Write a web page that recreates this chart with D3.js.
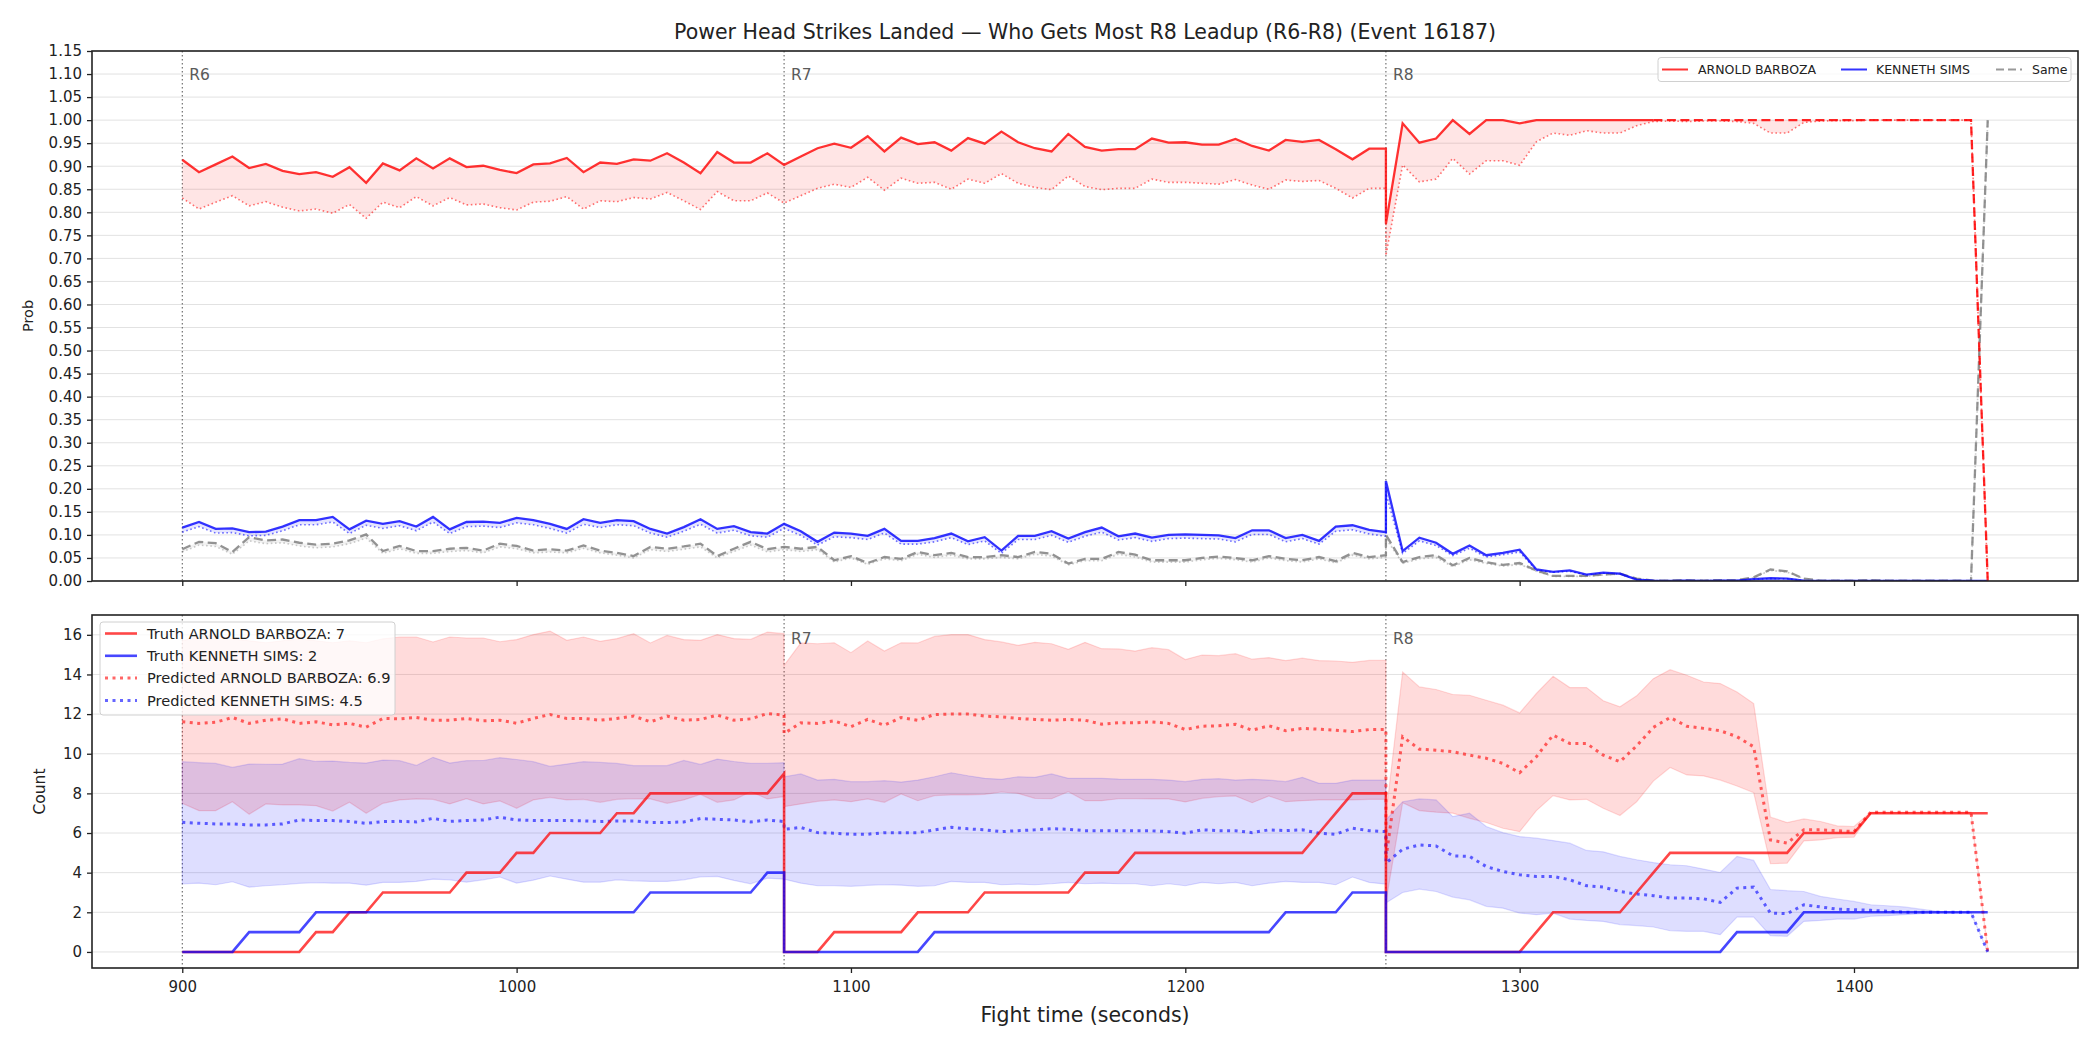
<!DOCTYPE html>
<html>
<head>
<meta charset="utf-8">
<script src="https://cdn.jsdelivr.net/npm/d3@7"></script>
<style>
  body { margin: 0; background: #fff; }
  svg { display: block; font-family: "DejaVu Sans", sans-serif; }
</style>
</head>
<body>
<svg class="chart" width="2100" height="1050"></svg>
<script>
var chartTitle = "Power Head Strikes Landed \u2014 Who Gets Most R8 Leadup (R6-R8) (Event 16187)";
var fighters = ["ARNOLD BARBOZA", "KENNETH SIMS"];
var finalTruth = [7, 2];
var finalPredicted = [6.9, 4.5];

var roundLabels = ["R6", "R7", "R8"];
var roundStarts = [900, 1080, 1260];
var roundSeconds = 180, stepSeconds = 5;

var timeTicks = [900, 1000, 1100, 1200, 1300, 1400];
var probTicks = [0, 0.05, 0.1, 0.15, 0.2, 0.25, 0.3, 0.35, 0.4, 0.45, 0.5, 0.55,
                 0.6, 0.65, 0.7, 0.75, 0.8, 0.85, 0.9, 0.95, 1.0, 1.05, 1.1, 1.15];
var countTicks = [0, 2, 4, 6, 8, 10, 12, 14, 16];

// top panel: probability each fighter lands most (solid) and its adjusted value (dotted)
var probArnold = [
  0.914,0.887,0.904,0.921,0.896,0.905,0.890,0.883,0.887,0.877,0.898,0.864,0.906,0.891,0.917,0.895,0.917,0.898,0.901,0.892,
  0.885,0.904,0.906,0.918,0.887,0.908,0.905,0.915,0.912,0.928,0.908,0.885,0.931,0.908,0.908,0.928,0.903,
  0.903,0.921,0.939,0.949,0.940,0.965,0.932,0.962,0.948,0.952,0.934,0.961,0.949,0.975,0.952,0.939,0.932,0.970,0.942,0.934,
  0.937,0.937,0.960,0.951,0.952,0.947,0.947,0.959,0.944,0.934,0.957,0.953,0.957,0.937,0.915,0.938,0.938,
  0.775,0.993,0.951,0.960,1.0,0.970,1.0,1.0,0.993,1.0,1.0,1.0,1.0,1.0,1.0,1.0,1.0,1.0,1.0,1.0,
  1.0,1.0,1.0,1.0,1.0,1.0,1.0,1.0,1.0,1.0,1.0,1.0,1.0,1.0,1.0,1.0,0
];
var probArnoldAdj = [
  0.831,0.807,0.822,0.836,0.814,0.823,0.811,0.803,0.807,0.798,0.817,0.787,0.822,0.810,0.834,0.814,0.832,0.816,0.818,0.810,
  0.805,0.822,0.824,0.834,0.807,0.825,0.823,0.832,0.829,0.843,0.825,0.806,0.845,0.825,0.825,0.842,0.820,
  0.820,0.836,0.852,0.861,0.854,0.876,0.848,0.874,0.863,0.865,0.850,0.872,0.863,0.884,0.863,0.854,0.849,0.879,0.856,0.849,
  0.852,0.852,0.872,0.865,0.865,0.863,0.861,0.871,0.859,0.850,0.870,0.867,0.869,0.852,0.831,0.852,0.852,
  0.706,0.903,0.866,0.872,0.917,0.883,0.912,0.912,0.902,0.953,0.972,0.967,0.977,0.972,0.972,0.988,0.997,0.998,0.997,0.998,
  0.998,0.997,0.993,0.972,0.972,0.995,0.998,0.999,0.999,1.0,1.0,1.0,1.0,1.0,1.0,1.0,0
];
var probKenneth = [
  0.116,0.128,0.113,0.114,0.106,0.107,0.118,0.132,0.132,0.139,0.112,0.131,0.124,0.130,0.118,0.139,0.112,0.128,0.129,0.126,
  0.137,0.132,0.124,0.113,0.134,0.126,0.132,0.130,0.113,0.103,0.117,0.134,0.113,0.119,0.106,0.103,0.124,
  0.124,0.108,0.085,0.105,0.103,0.098,0.113,0.087,0.087,0.093,0.103,0.086,0.095,0.066,0.098,0.098,0.108,0.092,0.106,0.116,
  0.097,0.103,0.094,0.100,0.101,0.100,0.099,0.093,0.110,0.110,0.093,0.100,0.087,0.118,0.121,0.111,0.106,
  0.217,0.065,0.094,0.083,0.059,0.077,0.056,0.061,0.068,0.025,0.020,0.023,0.014,0.018,0.016,0.003,0.001,0.000,0.001,0.000,
  0.001,0.001,0.004,0.006,0.005,0.001,0,0,0,0,0,0,0,0,0,0,0
];
var probKennethAdj = [
  0.106,0.118,0.104,0.105,0.098,0.099,0.109,0.122,0.122,0.128,0.103,0.121,0.114,0.120,0.109,0.128,0.103,0.118,0.119,0.116,
  0.126,0.122,0.114,0.104,0.123,0.116,0.122,0.120,0.104,0.095,0.108,0.123,0.104,0.110,0.098,0.095,0.114,
  0.114,0.099,0.078,0.096,0.094,0.090,0.104,0.080,0.080,0.085,0.094,0.079,0.087,0.060,0.090,0.090,0.099,0.084,0.097,0.106,
  0.089,0.094,0.086,0.092,0.093,0.092,0.091,0.085,0.101,0.101,0.085,0.092,0.080,0.108,0.111,0.102,0.097,
  0.190,0.060,0.087,0.077,0.055,0.071,0.052,0.057,0.063,0.023,0.019,0.021,0.013,0.017,0.015,0.003,0.001,0,0.001,0,
  0.001,0.001,0.004,0.005,0.005,0.001,0,0,0,0,0,0,0,0,0,0,0
];
var probSame = [
  0.069,0.085,0.082,0.063,0.095,0.088,0.090,0.083,0.079,0.081,0.088,0.101,0.065,0.076,0.065,0.065,0.070,0.072,0.066,0.081,
  0.076,0.066,0.069,0.066,0.077,0.066,0.061,0.054,0.074,0.070,0.075,0.081,0.054,0.070,0.085,0.069,0.074,
  0.074,0.070,0.074,0.045,0.054,0.039,0.052,0.048,0.063,0.056,0.061,0.052,0.052,0.056,0.052,0.063,0.059,0.038,0.048,0.048,
  0.063,0.057,0.045,0.045,0.045,0.050,0.053,0.050,0.045,0.054,0.048,0.045,0.052,0.043,0.061,0.052,0.056,
  0.100,0.041,0.052,0.056,0.034,0.050,0.041,0.035,0.039,0.023,0.011,0.011,0.011,0.014,0.016,0.005,0.001,0.001,0.002,0.001,
  0.002,0.002,0.008,0.025,0.021,0.005,0.001,0.001,0.001,0.002,0.001,0.001,0.001,0.001,0.001,0.0,1.0
];
var probSameAdj = [
  0.063,0.078,0.075,0.058,0.087,0.081,0.083,0.076,0.072,0.074,0.081,0.093,0.060,0.070,0.060,0.060,0.064,0.066,0.061,0.074,
  0.070,0.061,0.063,0.061,0.071,0.061,0.056,0.050,0.068,0.064,0.069,0.074,0.050,0.064,0.078,0.063,0.068,
  0.068,0.064,0.068,0.041,0.050,0.036,0.048,0.044,0.058,0.051,0.056,0.048,0.048,0.051,0.048,0.058,0.054,0.035,0.044,0.044,
  0.058,0.052,0.041,0.041,0.041,0.046,0.049,0.046,0.041,0.050,0.044,0.041,0.048,0.039,0.056,0.048,0.051,
  0.092,0.038,0.048,0.051,0.031,0.046,0.038,0.032,0.036,0.021,0.010,0.010,0.010,0.013,0.015,0.005,0.001,0.001,0.002,0.001,
  0.002,0.002,0.007,0.023,0.019,0.005,0.001,0.001,0.001,0.002,0.001,0.001,0.001,0.001,0.001,0.0,1.0
];

// bottom panel: counts within each round
var truthArnold = [
  0,0,0,0,0,0,0,0,1,1,2,2,3,3,3,3,3,4,4,4,5,5,6,6,6,6,7,7,8,8,8,8,8,8,8,8,9,
  0,0,0,1,1,1,1,1,2,2,2,2,3,3,3,3,3,3,4,4,4,5,5,5,5,5,5,5,5,5,5,5,6,7,8,8,8,
  0,0,0,0,0,0,0,0,0,1,2,2,2,2,2,3,4,5,5,5,5,5,5,5,5,6,6,6,6,7,7,7,7,7,7,7,7
];
var truthKenneth = [
  0,0,0,0,1,1,1,1,2,2,2,2,2,2,2,2,2,2,2,2,2,2,2,2,2,2,2,2,3,3,3,3,3,3,3,4,4,
  0,0,0,0,0,0,0,0,0,1,1,1,1,1,1,1,1,1,1,1,1,1,1,1,1,1,1,1,1,1,2,2,2,2,3,3,3,
  0,0,0,0,0,0,0,0,0,0,0,0,0,0,0,0,0,0,0,0,0,1,1,1,1,2,2,2,2,2,2,2,2,2,2,2,2
];
var predArnold = [
  11.61,11.53,11.59,11.83,11.53,11.69,11.76,11.53,11.61,11.46,11.53,11.34,11.78,11.76,11.83,11.69,11.69,11.78,11.66,11.69,
  11.54,11.78,11.98,11.78,11.78,11.69,11.78,11.90,11.61,11.90,11.69,11.73,11.95,11.69,11.76,12.03,11.95,
  11.02,11.56,11.53,11.66,11.36,11.73,11.44,11.83,11.69,11.98,12.00,12.00,11.90,11.86,11.78,11.73,11.69,11.73,11.69,11.49,
  11.56,11.56,11.61,11.53,11.22,11.39,11.41,11.49,11.19,11.41,11.16,11.28,11.24,11.19,11.12,11.22,11.22,
  4.70,10.86,10.23,10.18,10.10,9.93,9.77,9.51,9.04,9.85,10.94,10.52,10.52,9.93,9.60,10.40,11.33,11.83,11.39,11.28,
  11.16,10.86,10.35,5.65,5.49,6.16,6.16,6.12,6.07,7.05,7.05,7.05,7.05,7.05,7.05,7.05,0
];
var predKenneth = [
  6.54,6.49,6.46,6.46,6.41,6.41,6.46,6.66,6.63,6.63,6.58,6.49,6.58,6.59,6.56,6.74,6.59,6.63,6.66,6.80,
  6.66,6.63,6.63,6.63,6.61,6.58,6.61,6.61,6.53,6.53,6.56,6.73,6.69,6.66,6.56,6.66,6.58,
  6.19,6.28,6.02,5.99,5.94,5.94,6.02,6.02,6.02,6.16,6.29,6.21,6.16,6.07,6.12,6.16,6.22,6.19,6.12,6.12,
  6.12,6.11,6.11,6.07,5.99,6.16,6.12,6.11,6.02,6.16,6.12,6.16,5.99,5.94,6.24,6.12,6.07,
  4.48,5.18,5.40,5.35,4.85,4.82,4.31,4.06,3.89,3.81,3.81,3.64,3.34,3.27,3.05,2.92,2.84,2.72,2.72,2.68,
  2.50,3.22,3.27,1.96,1.93,2.38,2.27,2.16,2.13,2.10,2.05,2.01,2.00,2.00,2.00,2.00,0
];
var arnoldHi = [
  15.70,15.90,16.00,15.80,15.70,15.60,15.70,15.80,15.70,15.60,15.70,15.60,15.80,15.89,15.89,15.64,15.89,15.84,15.84,15.65,
  15.76,16.01,16.19,15.72,15.89,15.67,15.81,16.06,15.59,15.97,15.76,15.72,16.01,15.81,15.77,16.14,16.06,
  14.46,15.59,15.55,15.60,15.10,15.69,15.18,15.60,15.59,15.92,16.01,16.01,15.76,15.64,15.47,15.62,15.55,15.27,15.62,15.30,
  15.29,15.18,15.35,15.25,14.75,14.98,14.95,15.05,14.77,14.85,14.70,14.82,14.70,14.68,14.61,14.71,14.71,
  6.90,14.13,13.37,13.24,12.99,12.95,12.70,12.45,12.06,13.04,13.91,13.34,13.34,12.67,12.37,12.92,13.79,14.24,13.96,13.62,
  13.54,13.12,12.53,6.80,6.53,6.71,6.58,6.36,6.33,7.05,7.05,7.05,7.05,7.05,7.05,7.05,0.10
];
var arnoldLo = [
  7.50,7.13,7.13,7.58,6.95,7.47,7.42,7.42,7.38,7.11,7.55,7.00,7.50,7.67,7.72,7.70,7.47,7.73,7.47,7.62,
  7.25,7.67,7.80,7.67,7.70,7.55,7.70,7.73,7.72,7.50,7.67,7.95,7.55,7.67,8.09,7.72,7.84,
  7.33,7.47,7.60,7.67,7.58,7.72,7.55,7.97,7.63,7.89,7.92,7.92,7.95,8.07,8.00,7.75,7.73,8.09,7.63,7.63,
  7.73,7.73,7.72,7.72,7.57,7.75,7.84,7.87,7.53,7.87,7.58,7.63,7.67,7.67,7.67,7.70,7.70,
  2.50,7.53,7.13,7.05,7.00,6.74,6.53,6.24,6.07,7.13,7.89,7.67,7.70,7.25,6.88,7.58,8.62,9.31,8.93,8.88,
  8.67,8.37,8.04,4.45,4.48,5.60,5.65,5.77,5.79,7.00,7.00,7.00,7.00,7.00,7.00,7.00,0
];
var kennethHi = [
  9.60,9.55,9.51,9.31,9.48,9.46,9.48,9.75,9.61,9.63,9.56,9.53,9.68,9.65,9.41,9.82,9.53,9.65,9.66,9.80,
  9.71,9.60,9.36,9.48,9.60,9.56,9.51,9.40,9.40,9.40,9.66,9.46,9.73,9.61,9.51,9.51,9.55,
  8.84,8.98,8.67,8.71,8.59,8.59,8.64,8.57,8.67,8.84,9.04,8.89,8.76,8.71,8.84,8.81,8.98,8.76,8.76,8.76,
  8.72,8.71,8.71,8.67,8.59,8.71,8.74,8.67,8.71,8.67,8.59,8.81,8.51,8.51,8.67,8.67,8.67,
  6.66,7.58,7.72,7.67,6.83,7.00,6.33,6.02,5.82,5.74,5.62,5.49,5.12,5.05,4.82,4.65,4.51,4.40,4.35,4.18,
  4.01,4.82,4.62,3.15,3.09,3.05,2.80,2.67,2.55,2.38,2.33,2.27,2.16,2.05,2.01,2.00,0
];
var kennethLo = [
  3.44,3.47,3.39,3.54,3.27,3.34,3.39,3.46,3.49,3.47,3.47,3.37,3.51,3.51,3.56,3.67,3.64,3.52,3.64,3.78,
  3.47,3.62,3.83,3.67,3.52,3.52,3.64,3.59,3.56,3.56,3.64,3.79,3.81,3.61,3.44,3.72,3.67,
  3.67,3.47,3.34,3.34,3.31,3.36,3.39,3.37,3.31,3.34,3.56,3.51,3.51,3.39,3.42,3.39,3.44,3.51,3.44,3.47,
  3.44,3.44,3.34,3.44,3.34,3.51,3.44,3.51,3.34,3.47,3.56,3.51,3.51,3.39,3.78,3.51,3.42,
  2.47,3.00,3.17,3.05,2.77,2.63,2.30,2.21,1.96,1.88,1.96,1.66,1.59,1.54,1.38,1.33,1.26,1.07,1.04,1.04,
  0.87,1.76,1.76,0.82,0.79,1.54,1.59,1.66,1.66,1.80,1.83,1.88,1.93,1.96,1.96,1.96,0
];

(function() {
  var svg = d3.select(".chart"),
      width = +svg.attr("width"),
      height = +svg.attr("height");

  var red = "#ff0000", blue = "#0000ff", grey = "#808080", ink = "#222";
  var dashFrom = 1340; // red probability line turns dashed from here on (last round)

  // sample times, one block of 37 per round (round boundaries repeat)
  var time = [];
  roundStarts.forEach(function(s) {
    d3.range(s, s + roundSeconds + 1, stepSeconds).forEach(function(t) { time.push(t); });
  });
  var perRound = roundSeconds / stepSeconds + 1;

  var frame = {left: 92, right: 2078};
  var probBox = {top: 51, bottom: 581},
      countBox = {top: 615, bottom: 968};

  var x = d3.scaleLinear().domain([873, 1467]).range([frame.left, frame.right]);
  var yProb = d3.scaleLinear().domain([0, 1.15]).range([probBox.bottom, probBox.top]);
  var yCount = d3.scaleLinear().domain([-0.81, 17.0]).range([countBox.bottom, countBox.top]);

  svg.append("rect").attr("width", width).attr("height", height).attr("fill", "#fff");

  var defs = svg.append("defs");
  [["clipProb", probBox], ["clipCount", countBox]].forEach(function(c) {
    defs.append("clipPath").attr("id", c[0]).append("rect")
      .attr("x", frame.left).attr("y", c[1].top)
      .attr("width", frame.right - frame.left).attr("height", c[1].bottom - c[1].top);
  });

  function pts(values) {
    return values.map(function(v, i) { return {t: time[i], v: v, i: i}; });
  }

  function grid(g, scale, ticks) {
    g.selectAll(".grid").data(ticks).enter().append("line")
      .attr("x1", frame.left).attr("x2", frame.right)
      .attr("y1", function(d) { return scale(d); })
      .attr("y2", function(d) { return scale(d); })
      .attr("stroke", "#e2e2e2").attr("stroke-width", 1);
  }

  function roundMarks(g, box, labelFrom) {
    roundStarts.forEach(function(s, i) {
      g.append("line")
        .attr("x1", x(s)).attr("x2", x(s))
        .attr("y1", box.top).attr("y2", box.bottom)
        .attr("stroke", "#555").attr("stroke-width", 1)
        .attr("stroke-dasharray", "1.5,2.5");
      if (i >= labelFrom) {
        g.append("text")
          .attr("x", x(s) + 7).attr("y", box.top + 29)
          .attr("font-size", "15.5px").attr("fill", "#5a5a5a")
          .text(roundLabels[i]);
      }
    });
  }

  function axes(box, yScale, yTicks, yFormat, showX) {
    var g = svg.append("g");
    var yAxis = d3.axisLeft(yScale).tickValues(yTicks).tickFormat(yFormat)
      .tickSize(5).tickPadding(5);
    var ya = g.append("g").attr("transform", "translate(" + frame.left + ",0)").call(yAxis);
    var xAxis = d3.axisBottom(x).tickValues(timeTicks).tickSize(5).tickPadding(8)
      .tickFormat(showX ? d3.format("d") : "");
    var xa = g.append("g").attr("transform", "translate(0," + box.bottom + ")").call(xAxis);
    [ya, xa].forEach(function(a) {
      a.select(".domain").remove();
      a.selectAll(".tick line").attr("stroke", ink).attr("stroke-width", 1.3);
      a.selectAll(".tick text").attr("fill", ink)
        .style("font-family", "DejaVu Sans").style("font-size", "15px");
    });
    g.append("rect")
      .attr("x", frame.left).attr("y", box.top)
      .attr("width", frame.right - frame.left).attr("height", box.bottom - box.top)
      .attr("fill", "none").attr("stroke", ink).attr("stroke-width", 1.6);
  }

  // ---------- top panel ----------
  var top = svg.append("g");
  grid(top, yProb, probTicks);
  roundMarks(top, probBox, 0);

  var probPlot = top.append("g").attr("clip-path", "url(#clipProb)");
  var lineP = d3.line().x(function(d) { return x(d.t); }).y(function(d) { return yProb(d.v); });

  function bandP(hi, lo, color, opacity) {
    var data = hi.map(function(v, i) { return {t: time[i], hi: v, lo: lo[i]}; });
    probPlot.append("path").datum(data)
      .attr("fill", color).attr("fill-opacity", opacity)
      .attr("d", d3.area()
        .x(function(d) { return x(d.t); })
        .y0(function(d) { return yProb(d.lo); })
        .y1(function(d) { return yProb(d.hi); }));
  }

  bandP(probArnold, probArnoldAdj, red, 0.1);
  bandP(probKenneth, probKennethAdj, blue, 0.1);
  bandP(probSame, probSameAdj, grey, 0.1);

  [[probArnoldAdj, red, 0.55], [probKennethAdj, blue, 0.55], [probSameAdj, grey, 0.4]].forEach(function(s) {
    probPlot.append("path").datum(pts(s[0]))
      .attr("fill", "none").attr("stroke", s[1]).attr("stroke-opacity", s[2])
      .attr("stroke-width", 1.6).attr("stroke-dasharray", "1.6,2.6")
      .attr("d", lineP);
  });

  probPlot.append("path").datum(pts(probSame))
    .attr("fill", "none").attr("stroke", grey).attr("stroke-opacity", 0.85)
    .attr("stroke-width", 2.3).attr("stroke-dasharray", "9,4.5")
    .attr("d", lineP);

  probPlot.append("path").datum(pts(probKenneth))
    .attr("fill", "none").attr("stroke", blue).attr("stroke-opacity", 0.8)
    .attr("stroke-width", 2.3).attr("d", lineP);

  var arnoldPts = pts(probArnold),
      lastRound = 2 * perRound;
  probPlot.append("path")
    .datum(arnoldPts.filter(function(d) { return d.i < lastRound || d.t <= dashFrom; }))
    .attr("fill", "none").attr("stroke", red).attr("stroke-opacity", 0.8)
    .attr("stroke-width", 2.3).attr("d", lineP);
  probPlot.append("path")
    .datum(arnoldPts.filter(function(d) { return d.i >= lastRound && d.t >= dashFrom; }))
    .attr("fill", "none").attr("stroke", red).attr("stroke-opacity", 0.85)
    .attr("stroke-width", 2.3).attr("stroke-dasharray", "9,4.5")
    .attr("d", lineP);

  axes(probBox, yProb, probTicks, d3.format(".2f"), false);

  svg.append("text")
    .attr("transform", "translate(33," + (probBox.top + probBox.bottom) / 2 + ") rotate(-90)")
    .attr("text-anchor", "middle").attr("font-size", "14.5px").attr("fill", ink)
    .text("Prob");

  // top legend
  var legTop = svg.append("g");
  legTop.append("rect")
    .attr("x", 1658).attr("y", 57.5).attr("width", 413).attr("height", 24).attr("rx", 3)
    .attr("fill", "#fff").attr("fill-opacity", 0.8)
    .attr("stroke", "#d0d0d0").attr("stroke-width", 1);
  var topItems = [
    {label: fighters[0], color: red, dash: null, x: 1662, tx: 1698},
    {label: fighters[1], color: blue, dash: null, x: 1841, tx: 1876},
    {label: "Same", color: grey, dash: "8,4", x: 1996, tx: 2032}
  ];
  topItems.forEach(function(d) {
    legTop.append("line")
      .attr("x1", d.x).attr("x2", d.x + 26).attr("y1", 69.5).attr("y2", 69.5)
      .attr("stroke", d.color).attr("stroke-opacity", 0.8).attr("stroke-width", 2)
      .attr("stroke-dasharray", d.dash);
    legTop.append("text")
      .attr("x", d.tx).attr("y", 74)
      .attr("font-size", "12.5px").attr("fill", ink)
      .text(d.label);
  });

  // ---------- bottom panel ----------
  var bot = svg.append("g");
  grid(bot, yCount, countTicks);
  roundMarks(bot, countBox, 1);

  var countPlot = bot.append("g").attr("clip-path", "url(#clipCount)");
  var lineC = d3.line().x(function(d) { return x(d.t); }).y(function(d) { return yCount(d.v); });

  function bandC(hi, lo, color, opacity) {
    var data = hi.map(function(v, i) { return {t: time[i], hi: v, lo: lo[i]}; });
    countPlot.append("path").datum(data)
      .attr("fill", color).attr("fill-opacity", opacity)
      .attr("stroke", color).attr("stroke-opacity", opacity).attr("stroke-width", 1.2)
      .attr("d", d3.area()
        .x(function(d) { return x(d.t); })
        .y0(function(d) { return yCount(d.lo); })
        .y1(function(d) { return yCount(d.hi); }));
  }

  bandC(arnoldHi, arnoldLo, red, 0.14);
  bandC(kennethHi, kennethLo, blue, 0.13);

  [[predArnold, red], [predKenneth, blue]].forEach(function(s) {
    countPlot.append("path").datum(pts(s[0]))
      .attr("fill", "none").attr("stroke", s[1]).attr("stroke-opacity", 0.6)
      .attr("stroke-width", 3).attr("stroke-dasharray", "3,4.5")
      .attr("d", lineC);
  });

  [[truthArnold, red], [truthKenneth, blue]].forEach(function(s) {
    countPlot.append("path").datum(pts(s[0]))
      .attr("fill", "none").attr("stroke", s[1]).attr("stroke-opacity", 0.72)
      .attr("stroke-width", 2.6).attr("d", lineC);
  });

  axes(countBox, yCount, countTicks, d3.format("d"), true);

  svg.append("text")
    .attr("transform", "translate(45," + (countBox.top + countBox.bottom) / 2 + ") rotate(-90)")
    .attr("text-anchor", "middle").attr("font-size", "15.5px").attr("fill", ink)
    .text("Count");

  svg.append("text")
    .attr("x", (frame.left + frame.right) / 2).attr("y", 1022)
    .attr("text-anchor", "middle").attr("font-size", "20.5px").attr("fill", ink)
    .text("Fight time (seconds)");

  // bottom legend
  var legBot = svg.append("g");
  legBot.append("rect")
    .attr("x", 100).attr("y", 622).attr("width", 295).attr("height", 93).attr("rx", 3)
    .attr("fill", "#fff").attr("fill-opacity", 0.8)
    .attr("stroke", "#d0d0d0").attr("stroke-width", 1);
  var botItems = [
    {label: "Truth " + fighters[0] + ": " + finalTruth[0], color: red, dotted: false},
    {label: "Truth " + fighters[1] + ": " + finalTruth[1], color: blue, dotted: false},
    {label: "Predicted " + fighters[0] + ": " + finalPredicted[0], color: red, dotted: true},
    {label: "Predicted " + fighters[1] + ": " + finalPredicted[1], color: blue, dotted: true}
  ];
  botItems.forEach(function(d, i) {
    var cy = 633.5 + i * 22.3;
    legBot.append("line")
      .attr("x1", 105).attr("x2", 137).attr("y1", cy).attr("y2", cy)
      .attr("stroke", d.color)
      .attr("stroke-opacity", d.dotted ? 0.6 : 0.72)
      .attr("stroke-width", d.dotted ? 3 : 2.6)
      .attr("stroke-dasharray", d.dotted ? "3,4.5" : null);
    legBot.append("text")
      .attr("x", 147).attr("y", cy + 5.3)
      .attr("font-size", "14.6px").attr("fill", ink)
      .text(d.label);
  });

  // title
  svg.append("text")
    .attr("x", (frame.left + frame.right) / 2).attr("y", 38.5)
    .attr("text-anchor", "middle").attr("font-size", "20.5px").attr("fill", ink)
    .text(chartTitle);
})();
</script>
</body>
</html>
